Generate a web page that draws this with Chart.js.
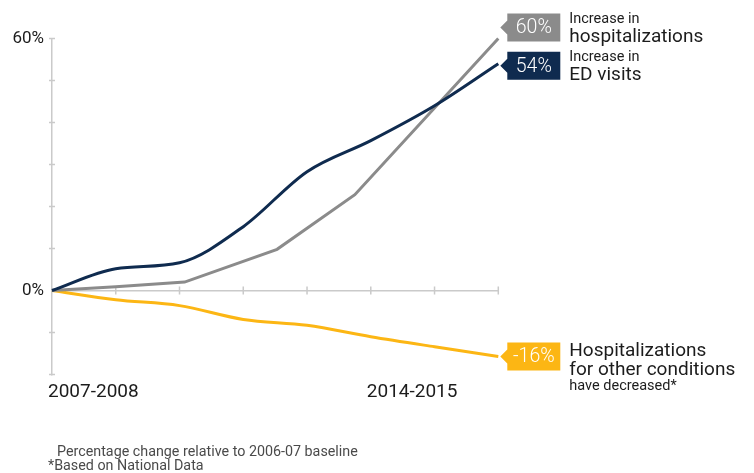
<!DOCTYPE html>
<html>
<head>
<meta charset="utf-8">
<script src="https://cdn.jsdelivr.net/npm/chart.js@4.4.1/dist/chart.umd.min.js"></script>
<style>
  html,body{margin:0;padding:0;background:#fff}
  #wrap{width:754px;height:473px}
</style>
</head>
<body>
<div id="wrap"><canvas id="chart" width="754" height="473"></canvas></div>
<script>
/* ---------- DATA ---------- */
const periods    = [0,1,2,3,4,5,6,7];                 // yearly points from 2007-08
const edVisits   = [0,5.2,6.6,15.2,28.3,35.7,44,54];
const otherHosp  = [0,-2.2,-3.6,-6.9,-8.3,-11.0,-13.4,-15.7];
const hospX      = [0,1,2.08,3.53,4.75,7];              // hospitalizations line breaks
const hospY      = [0,0.9,2.0,9.8,22.8,60];
const xLabelPos  = [0,5];
const xLabelText = ['2007-2008','2014-2015'];
const yLabelVals = [0,60];
const endTags    = ['60%','54%','-16%'];
const endNotes   = [
  ['Increase in','hospitalizations'],
  ['Increase in','ED visits'],
  ['Hospitalizations','for other conditions','have decreased*']
];
const footnotes  = ['Percentage change relative to 2006-07 baseline','*Based on National Data'];

/* ---------- STYLE ---------- */
const NAVY='#0f2b4f', GRAY='#8b8b8b', GOLD='#fcb614', AXIS='#cacaca', TEXT='#1c1c1c';
const FONT='Roboto, "Noto Sans", sans-serif';

/* ---------- PLUGINS ---------- */
// small tick marks that cross the axis lines
const crossTicks = {
  id:'crossTicks',
  beforeDatasetsDraw(chart){
    const {ctx,scales:{x,y}}=chart;
    const y0=y.getPixelForValue(0), x0=x.left;
    ctx.save();
    ctx.strokeStyle=AXIS; ctx.lineWidth=1.5;
    ctx.beginPath();
    periods.slice(1).forEach(p=>{
      const px=x.getPixelForValue(p);
      ctx.moveTo(px,y0-4); ctx.lineTo(px,y0+4);
    });
    for(let v=y.min; v<=y.max; v+=10){
      if(v===0) continue;
      const py=y.getPixelForValue(v);
      ctx.moveTo(x0-3,py); ctx.lineTo(x0+3,py);
    }
    ctx.stroke();
    ctx.restore();
  }
};

// value tags + notes at the line ends, plus footnotes
const tagPlugin = {
  id:'tagPlugin',
  afterDraw(chart){
    const {ctx,scales:{x,y}}=chart;
    const ends=[
      {val:hospY.at(-1),     dy:-11, color:GRAY, lines:[[-4.8,14.5],[14.2,19]]},
      {val:edVisits.at(-1),  dy:2,   color:NAVY, lines:[[-4.5,14.5],[14.5,19]]},
      {val:otherHosp.at(-1), dy:0,   color:GOLD, lines:[[0,19],[18.5,19],[33.5,14.5]]}
    ];
    ctx.save();
    ends.forEach((e,i)=>{
      const cy=y.getPixelForValue(e.val)+e.dy;
      const tip=x.right+2, bl=tip+7, br=bl+53, h=14;
      ctx.fillStyle=e.color;
      ctx.beginPath();
      ctx.moveTo(tip,cy); ctx.lineTo(bl,cy-7); ctx.lineTo(bl,cy-h);
      ctx.lineTo(br,cy-h); ctx.lineTo(br,cy+h); ctx.lineTo(bl,cy+h);
      ctx.lineTo(bl,cy+7); ctx.closePath(); ctx.fill();

      ctx.fillStyle='#fff';
      ctx.font=`300 19.5px ${FONT}`;
      ctx.textAlign='center'; ctx.textBaseline='middle';
      ctx.fillText(endTags[i],(bl+br)/2,cy+1);

      ctx.fillStyle=TEXT;
      ctx.textAlign='left'; ctx.textBaseline='alphabetic';
      endNotes[i].forEach((t,j)=>{
        const [off,size]=e.lines[j];
        ctx.font=`${size}px ${FONT}`;
        ctx.fillText(t,br+9,cy+off);
      });
    });

    ctx.fillStyle='#4a4a4a';
    ctx.font=`14.3px ${FONT}`;
    ctx.textAlign='left'; ctx.textBaseline='alphabetic';
    ctx.fillText(footnotes[0],57,456);
    ctx.fillText(footnotes[1],48,470);
    ctx.restore();
  }
};

/* ---------- CHART ---------- */
const pts=(xs,ys)=>xs.map((v,i)=>({x:v,y:ys[i]}));

new Chart(document.getElementById('chart').getContext('2d'),{
  type:'line',
  data:{datasets:[
    {label:'ED visits',data:pts(periods,edVisits),borderColor:NAVY,cubicInterpolationMode:'monotone',clip:false},
    {label:'Hospitalizations',data:pts(hospX,hospY),borderColor:GRAY,tension:0,clip:false},
    {label:'Other hospitalizations',data:pts(periods,otherHosp),borderColor:GOLD,cubicInterpolationMode:'monotone',clip:false}
  ]},
  options:{
    responsive:false,
    animation:false,
    layout:{padding:{top:38.5,right:255.7,bottom:0,left:0}},
    plugins:{legend:{display:false},tooltip:{enabled:false}},
    elements:{point:{radius:0},line:{borderWidth:3}},
    scales:{
      x:{
        type:'linear',min:0,max:7,
        afterFit:s=>{s.height=98.5;},
        grid:{display:false,drawTicks:false},
        border:{display:false},
        ticks:{stepSize:1,autoSkip:false,maxRotation:0,align:'start',labelOffset:-4,padding:6,
               color:TEXT,font:{family:FONT,size:19},
               callback:v=>{const i=xLabelPos.indexOf(v);return i<0?'':xLabelText[i];}}
      },
      y:{
        min:-20,max:60,
        afterFit:s=>{s.width=52;},
        border:{color:AXIS,width:1.5},
        grid:{color:c=>c.tick&&c.tick.value===0?AXIS:'rgba(0,0,0,0)',lineWidth:1.5,drawTicks:false},
        ticks:{stepSize:10,padding:8,color:TEXT,font:{family:FONT,size:17},
               callback:v=>yLabelVals.includes(v)?v+'%':''}
      }
    }
  },
  plugins:[crossTicks,tagPlugin]
});
</script>
</body>
</html>
